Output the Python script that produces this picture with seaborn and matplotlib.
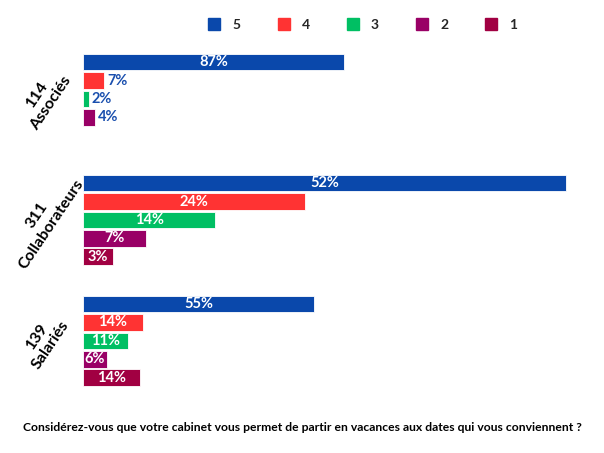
import numpy as np
import pandas as pd
import seaborn as sns
import matplotlib.pyplot as plt
from matplotlib.lines import Line2D

# data
groups = ['114\nAssociés', '311\nCollaborateurs', '139\nSalariés']
scores = ['5', '4', '3', '2', '1']
vals_associes = [87, 7, 2, 4, 0]
vals_collab = [161, 74, 44, 21, 10]
vals_salaries = [77, 20, 15, 8, 19]
pct_associes = ['87%', '7%', '2%', '4%', '']
pct_collab = ['52%', '24%', '14%', '7%', '3%']
pct_salaries = ['55%', '14%', '11%', '6%', '14%']
title = 'Considérez-vous que votre cabinet vous permet de partir en vacances aux dates qui vous conviennent ?'

colors = ['#0a48ab', '#ff3333', '#00bf63', '#990066', '#a10042']
blue_txt = '#1a4fae'

rows = []
for g, vv, pp in zip(groups, [vals_associes, vals_collab, vals_salaries],
                     [pct_associes, pct_collab, pct_salaries]):
    for s, v, p in zip(scores, vv, pp):
        rows.append({'group': g, 'score': s, 'value': v, 'pct': p})
df = pd.DataFrame(rows)

sns.set_theme(style='white')
plt.rcParams['font.family'] = ['Lato', 'DejaVu Sans']

fig = plt.figure(figsize=(6.04, 4.53), dpi=100)
ax = fig.add_axes([0.1374, 0.114, 0.845, 0.801])

sns.barplot(data=df, y='group', x='value', hue='score', order=groups,
            hue_order=scores, palette=colors, saturation=1, orient='h',
            width=0.76, gap=0.1, edgecolor='white', linewidth=0.6,
            legend=False, ax=ax)

ax.set_xlim(0, 170)
ax.set_xlabel('')
ax.set_ylabel('')
ax.set_xticks([])
sns.despine(ax=ax, left=True, bottom=True)

# value labels
for i, cont in enumerate(ax.containers):
    for j, bar in enumerate(cont):
        lab = df[(df['score'] == scores[i]) & (df['group'] == groups[j])]
        v = lab['value'].iloc[0]
        p = lab['pct'].iloc[0]
        if not p:
            continue
        yc = bar.get_y() + bar.get_height() / 2
        if v < 8:
            ax.text(bar.get_width() + 1, yc, p, ha='left', va='center',
                    color=blue_txt, fontsize=10.5, fontweight='bold')
        else:
            ax.text(bar.get_width() / 2, yc, p, ha='center', va='center',
                    color='white', fontsize=10.5, fontweight='bold')

ax.tick_params(axis='y', length=0, pad=28)
for lbl in ax.get_yticklabels():
    lbl.set_rotation(56)
    lbl.set_ha('center')
    lbl.set_va('center')
    lbl.set_multialignment('center')
    lbl.set_fontsize(11.5)
    lbl.set_fontweight('bold')
    lbl.set_color('black')

handles = [Line2D([], [], marker='s', linestyle='', markersize=8,
                  color=c) for c in colors]
fig.legend(handles, scores, loc='center', bbox_to_anchor=(0.6, 0.945),
           ncol=5, frameon=False, handlelength=1, handletextpad=0.8,
           columnspacing=2.6, prop={'weight': 'bold', 'size': 10})

fig.text(0.5, 0.057, title, ha='center', va='center', fontsize=8.7,
         fontweight='bold', color='black')

fig.savefig('out.png', dpi=100)
